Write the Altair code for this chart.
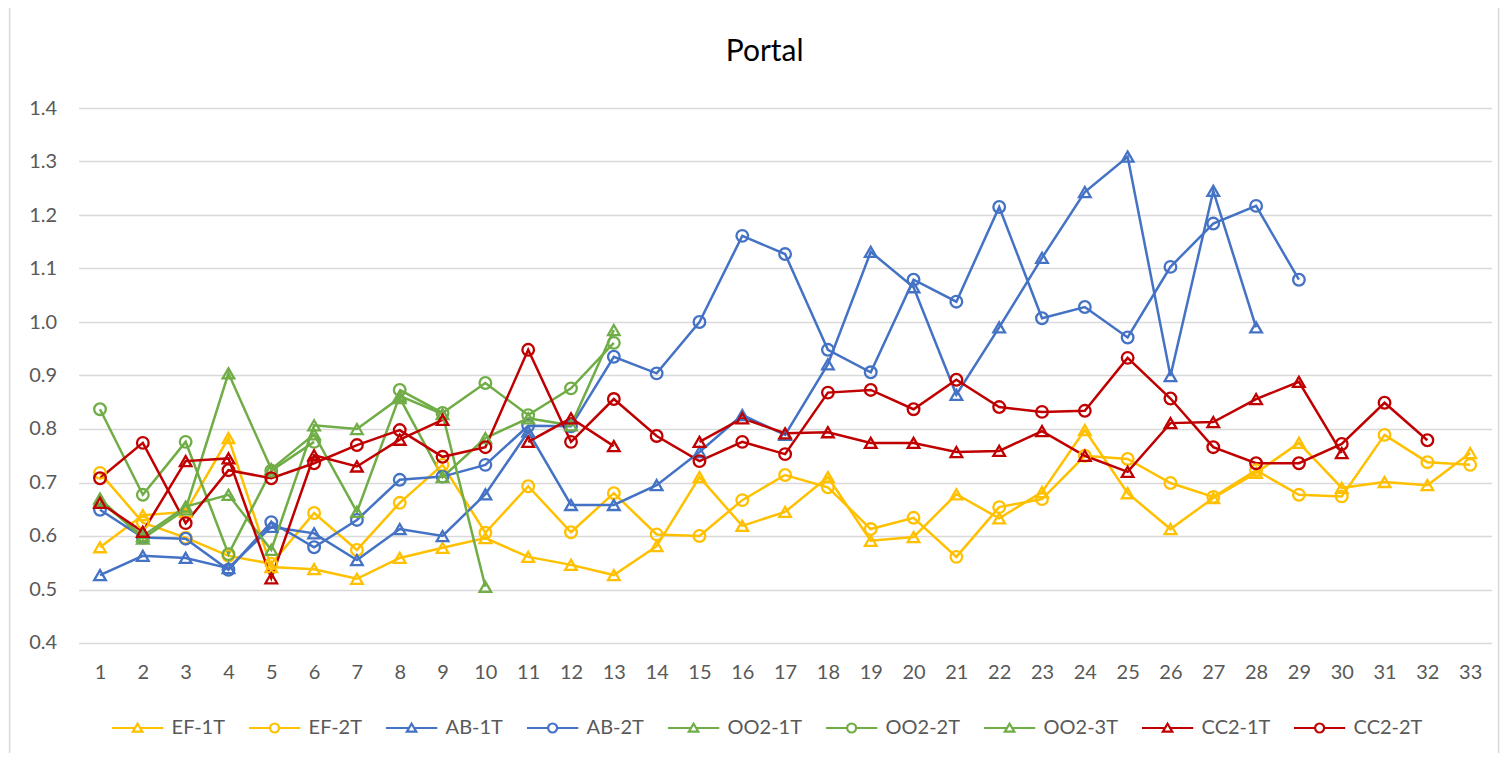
import altair as alt
import pandas as pd

# ---------------- data ----------------
chart_title = "Portal"
x_vals = list(range(1, 34))
series_names = ["EF-1T", "EF-2T", "AB-1T", "AB-2T", "OO2-1T", "OO2-2T", "OO2-3T", "CC2-1T", "CC2-2T"]
series_colors = ["#FFC000", "#FFC000", "#4472C4", "#4472C4", "#70AD47", "#70AD47", "#70AD47", "#C00000", "#C00000"]
series_shapes = ["triangle-up", "circle", "triangle-up", "circle", "triangle-up", "circle", "triangle-up", "triangle-up", "circle"]
y_ticks = [0.4, 0.5, 0.6, 0.7, 0.8, 0.9, 1.0, 1.1, 1.2, 1.3, 1.4]

ef_1t = [0.579, 0.639, 0.645, 0.783, 0.542, 0.538, 0.520, 0.559, 0.578, 0.596, 0.561, 0.546, 0.527, 0.581,
         0.710, 0.619, 0.645, 0.710, 0.591, 0.598, 0.678, 0.633, 0.682, 0.798, 0.680, 0.613, 0.671, 0.718,
         0.774, 0.690, 0.701, 0.695, 0.755]
ef_2t = [0.718, 0.625, 0.597, 0.563, 0.548, 0.643, 0.574, 0.662, 0.733, 0.606, 0.693, 0.607, 0.680, 0.603,
         0.600, 0.667, 0.714, 0.691, 0.613, 0.634, 0.561, 0.654, 0.669, 0.750, 0.744, 0.699, 0.673, 0.723,
         0.677, 0.674, 0.789, 0.738, 0.733]
ab_1t = [0.527, 0.563, 0.559, 0.540, 0.617, 0.605, 0.555, 0.613, 0.600, 0.678, 0.795, 0.658, 0.658, 0.695,
         0.757, 0.826, 0.789, 0.921, 1.131, 1.065, 0.864, 0.990, 1.120, 1.243, 1.309, 0.899, 1.245, 0.990,
         None, None, None, None, None]
ab_2t = [0.649, 0.597, 0.595, 0.537, 0.626, 0.579, 0.630, 0.705, 0.711, 0.733, 0.806, 0.805, 0.935, 0.904,
         1.000, 1.161, 1.127, 0.948, 0.906, 1.079, 1.038, 1.215, 1.007, 1.028, 0.971, 1.103, 1.184, 1.217,
         1.079, None, None, None, None]
oo2_1t = [0.670, 0.595, 0.650, 0.904, 0.725, 0.790, 0.645, 0.862, 0.828, 0.505] + [None] * 23
oo2_2t = [0.837, 0.677, 0.776, 0.566, 0.722, 0.776, None, 0.873, 0.830, 0.886, 0.826, 0.876, 0.961] + [None] * 20
oo2_3t = [0.665, 0.600, 0.655, 0.677, 0.574, 0.807, 0.800, 0.858, 0.710, 0.783, 0.820, 0.807, 0.985] + [None] * 20
cc2_1t = [0.662, 0.608, 0.740, 0.745, 0.521, 0.751, 0.730, 0.780, 0.817, None, 0.776, 0.820, 0.768, None,
          0.776, 0.820, 0.792, 0.794, 0.774, 0.774, 0.757, 0.759, 0.796, 0.750, 0.720, 0.811, 0.813, 0.856,
          0.888, 0.755, None, None, None]
cc2_2t = [0.708, 0.774, 0.624, 0.723, 0.708, 0.736, 0.770, 0.798, 0.748, 0.766, 0.948, 0.776, 0.856, 0.787,
          0.740, 0.776, 0.753, 0.868, 0.873, 0.837, 0.892, 0.841, 0.832, 0.834, 0.933, 0.857, 0.766, 0.736,
          0.736, 0.772, 0.849, 0.779, None]

all_series = [ef_1t, ef_2t, ab_1t, ab_2t, oo2_1t, oo2_2t, oo2_3t, cc2_1t, cc2_2t]

rows = []
for name, vals in zip(series_names, all_series):
    seg = 0
    for xv, v in zip(x_vals, vals):
        if v is None:
            seg += 1
            continue
        rows.append({"series": name, "x": xv, "value": v, "seg": f"{name}-{seg}"})
df = pd.DataFrame(rows)

# ---------------- styling ----------------
FONT = "Lato"
LABEL_COLOR = "#595959"
GRID = "#d9d9d9"

# legend symbols: marker with a line through it (as in the spreadsheet legend)
tri_path = "M-5.7,0H-0.5M0.5,0H5.7M0,-0.95L1.05,0.8H-1.05Z"
circ_path = "M-5.7,0H-1M1,0H5.7M1,0A1,1 0 1 1 -1,0A1,1 0 1 1 1,0Z"
legend_shapes = [tri_path if s == "triangle-up" else circ_path for s in series_shapes]

legend = alt.Legend(
    title=None,
    orient="none",
    legendX=49,
    legendY=610,
    direction="horizontal",
    columns=9,
    padding=0,
    labelFont=FONT,
    labelFontSize=20,
    labelColor=LABEL_COLOR,
    labelOffset=24,
    columnPadding=18,
    symbolSize=81,
    symbolStrokeWidth=2.2,
)

x_enc = alt.X(
    "x:O",
    scale=alt.Scale(domain=x_vals, type="point", padding=0.5),
    axis=alt.Axis(title=None, labelAngle=0, ticks=False, domain=False, grid=False,
                  labelFont=FONT, labelFontSize=20, labelColor=LABEL_COLOR, labelPadding=20),
)
y_enc = alt.Y(
    "value:Q",
    scale=alt.Scale(domain=[0.4, 1.4], nice=False, zero=False),
    axis=alt.Axis(title=None, values=y_ticks, format=".1f", ticks=False, domain=False,
                  gridColor=GRID, gridWidth=1.6, labelFont=FONT, labelFontSize=20,
                  labelColor=LABEL_COLOR, labelPadding=22),
)

base = alt.Chart(df)

lines = base.mark_line(strokeWidth=2.5).encode(
    x=x_enc,
    y=y_enc,
    color=alt.Color("series:N", scale=alt.Scale(domain=series_names, range=series_colors), legend=None),
    detail="seg:N",
    order="x:Q",
)

points = base.mark_point(filled=False, size=135, strokeWidth=2.3, opacity=1).encode(
    x=x_enc,
    y=y_enc,
    color=alt.Color("series:N", scale=alt.Scale(domain=series_names, range=series_colors), legend=None),
    shape=alt.Shape("series:N", scale=alt.Scale(domain=series_names, range=series_shapes), legend=None),
)

# legend-only layer (no marks drawn; legend comes from the explicit scale domains)
legend_layer = base.transform_filter("datum.value > 100").mark_point(filled=False, opacity=1).encode(
    x=x_enc,
    y=y_enc,
    color=alt.Color("series:N", scale=alt.Scale(domain=series_names, range=series_colors), legend=legend),
    shape=alt.Shape("series:N", scale=alt.Scale(domain=series_names, range=legend_shapes), legend=legend),
)

one_row = alt.Data(values=[{"t": chart_title}])

border = alt.Chart(one_row).mark_rect(
    fill="transparent", stroke=GRID, strokeWidth=1.5
).encode(
    x=alt.value(-69), x2=alt.value(1420), y=alt.value(-103), y2=alt.value(648)
)

title_mark = alt.Chart(one_row).mark_text(
    font=FONT, fontSize=30, color="#000000", align="center", baseline="middle"
).encode(
    text="t:N", x=alt.value(686), y=alt.value(-56)
)

chart = alt.layer(border, lines, points, legend_layer, title_mark).resolve_scale(
    color="independent", shape="independent"
).properties(
    width=1413,
    height=535,
    padding={"left": 70.6, "top": 100, "right": 10, "bottom": 110},
    autosize=alt.AutoSizeParams(type="none"),
).configure_view(stroke="transparent")

chart.save("out.html", embed_options={"renderer": "svg", "actions": False})
